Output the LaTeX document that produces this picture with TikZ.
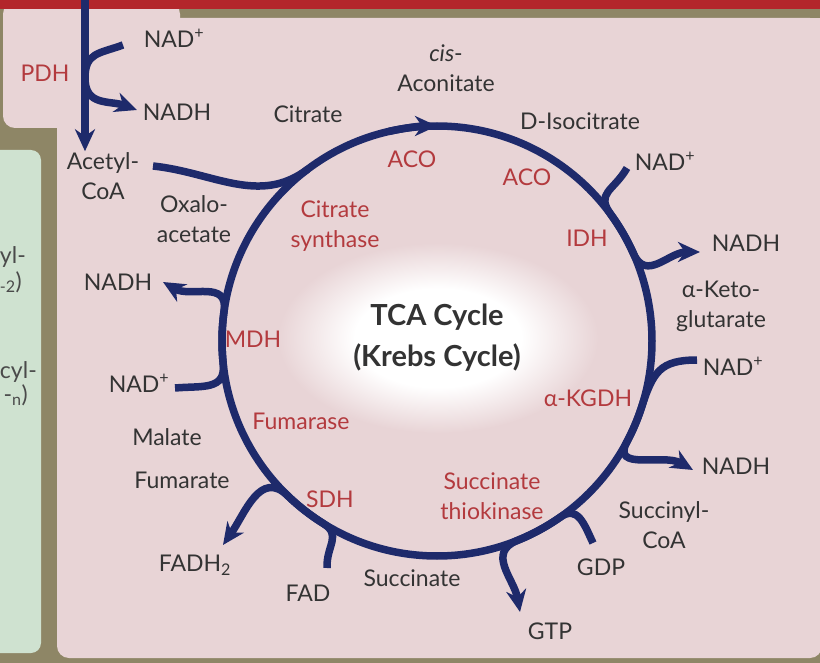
\documentclass[tikz,border=0pt]{standalone}
\usepackage{fontspec}
\setmainfont{Lato}
\usetikzlibrary{arrows.meta}
\definecolor{frameolive}{HTML}{8E8666}
\definecolor{barred}{HTML}{B3262B}
\definecolor{bgpink}{HTML}{E8D4D6}
\definecolor{bggreen}{HTML}{CFE2D0}
\definecolor{cycblue}{HTML}{1E2A6B}
\definecolor{enzred}{HTML}{B33A3E}
\definecolor{metgray}{HTML}{333333}
\definecolor{fraggray}{HTML}{4A4A4A}
\newcommand\mylabelfont{\fontsize{23}{30}\selectfont}
\newcommand\mytitlefont{\fontsize{29}{41}\selectfont\bfseries}
\pgfdeclareradialshading{centreglow}{\pgfpoint{0bp}{0bp}}{color(0bp)=(white); color(13bp)=(white); color(25bp)=(bgpink); color(50bp)=(bgpink)}

\begin{document}
\begin{tikzpicture}[x=1pt, y=1pt,
		met/.style={text=metgray, font=\mylabelfont, align=center, inner sep=1pt},
		enz/.style={met, text=enzred},
		frag/.style={met, text=fraggray, anchor=east},
		flow/.style={draw=cycblue, line width=7.5pt},
		flowtip/.style={-{Stealth[length=22pt, width=20pt, inset=7pt]}}]
			\useasboundingbox (0,0) rectangle (820,-663);
			\fill[frameolive] (0,0) rectangle (820,-663);
			\fill[bgpink, rounded corners=12pt] (57,-18) rectangle (822,-658);
			\fill[bgpink] (700,-18) rectangle (820,-40);
			\fill[bgpink, rounded corners=12pt] (3,-2) rectangle (180,-128);
			\fill[bggreen, rounded corners=10pt] (-12,-150) rectangle (41,-653);
			\fill[barred] (0,0) rectangle (820,-9);
			\shade[shading=centreglow] (438,-338) ellipse (160 and 95);
			\node[frag] (fragA) at (27,-257) {yl-};
			\node[frag] (fragB) at (23,-282) {\textsubscript{-2})};
			\node[frag] (fragC) at (38,-372) {cyl-};
			\node[frag] (fragD) at (29,-395) {-\textsubscript{n})};
			\node[met] (nadA) at (174,-38) {NAD\textsuperscript{+}};
			\node[enz] (pdh) at (45,-73) {PDH};
			\node[met] (nadhA) at (177,-112) {NADH};
			\node[met] (acoa) at (103,-176) {Acetyl-\\CoA};
			\node[met] (citrate) at (308,-114) {Citrate};
			\node[met] (cisaco) at (446,-68) {\textit{cis}-\\Aconitate};
			\node[met] (isocit) at (580,-121) {D-Isocitrate};
			\node[enz] (acoA) at (412,-159) {ACO};
			\node[enz] (acoB) at (527,-177) {ACO};
			\node[met] (nadB) at (665,-161) {NAD\textsuperscript{+}};
			\node[enz] (idh) at (587,-238) {IDH};
			\node[met] (nadhB) at (746,-243) {NADH};
			\node[met] (akg) at (721,-306) {α-Keto-\\glutarate};
			\node[met] (nadC) at (733,-366) {NAD\textsuperscript{+}};
			\node[enz] (akgdh) at (588,-398) {α-KGDH};
			\node[met] (nadhC) at (736,-466) {NADH};
			\node[met] (succoa) at (664,-525) {Succinyl-\\CoA};
			\node[met] (gdp) at (601,-567) {GDP};
			\node[met] (gtp) at (550,-631) {GTP};
			\node[met] (succ) at (412,-578) {Succinate};
			\node[enz] (sucthk) at (492,-496) {Succinate\\thiokinase};
			\node[met] (fad) at (308,-593) {FAD};
			\node[enz] (sdh) at (330,-499) {SDH};
			\node[met] (fadh) at (195,-565) {FADH\textsubscript{2}};
			\node[met] (fum) at (182,-480) {Fumarate};
			\node[met] (mal) at (167,-437) {Malate};
			\node[enz] (fumase) at (301,-421) {Fumarase};
			\node[met] (nadD) at (139,-383) {NAD\textsuperscript{+}};
			\node[enz] (mdh) at (253,-339) {MDH};
			\node[met] (nadhD) at (118,-282) {NADH};
			\node[met] (oaa) at (194,-219) {Oxalo-\\acetate};
			\node[enz] (cs) at (335,-226) {Citrate\\synthase};
			\node[met, font=\mytitlefont] (title) at (437,-338) {TCA Cycle\\(Krebs Cycle)};
			\node[draw=cycblue, line width=7.5pt, circle, minimum size=430pt, inner sep=0pt, outer sep=0pt] (cyc) at (437,-341) {};
			\coordinate (pdhtop) at (85,0);
			\coordinate (pdhc) at (85,-78);
			\coordinate (pdhin) at (123,-45);
			\coordinate (pdhout) at (137,-110);
			\coordinate (acin) at (153,-166);
			\coordinate (idhin) at (627,-168);
			\coordinate (idhout) at (700,-252);
			\coordinate (kgin) at (697,-360);
			\coordinate (kgout) at (693,-470);
			\coordinate (gdpin) at (593,-543);
			\coordinate (gtpout) at (520,-612);
			\coordinate (fadin) at (327,-568);
			\coordinate (fadhout) at (223,-545);
			\coordinate (mdhin) at (175,-388);
			\coordinate (mdhout) at (163,-282);
			\draw[flow, flowtip] (pdhtop) -- (pdhtop |- acoa.north);
			\draw[flow, flowtip] (pdhin) to[out=200, in=90, looseness=1.3] (pdhc) to[out=-90, in=160, looseness=1.2] (pdhout);
			\draw[flow] (acin) to[out=-6, in=217] (cyc.127);
			\draw[flow, flowtip] (cyc.103) arc[start angle=103, end angle=90, radius=215];
			\draw[flow, flowtip] (idhin) to[out=-120, in=126, looseness=1.4] (cyc.36) arc[start angle=36, end angle=24, radius=215] to[out=-66, in=180, looseness=1.2] (idhout);
			\draw[flow, flowtip] (kgin) to[out=180, in=72, looseness=1.3] (cyc.-18) arc[start angle=-18, end angle=-28, radius=215] to[out=-118, in=150, looseness=1.2] (kgout);
			\draw[flow, flowtip] (gdpin) to[out=115, in=35, looseness=1.3] (cyc.-55) arc[start angle=-55, end angle=-68, radius=215] to[out=202, in=100, looseness=1.2] (gtpout);
			\draw[flow, flowtip] (fadin) to[out=92, in=-32, looseness=1.3] (cyc.-122) arc[start angle=-122, end angle=-134, radius=215] to[out=136, in=55, looseness=1.2] (fadhout);
			\draw[flow, flowtip] (mdhin) to[out=5, in=-84, looseness=1.3] (cyc.186) arc[start angle=186, end angle=172, radius=215] to[out=82, in=-30, looseness=1.2] (mdhout);
		\end{tikzpicture}
\end{document}
